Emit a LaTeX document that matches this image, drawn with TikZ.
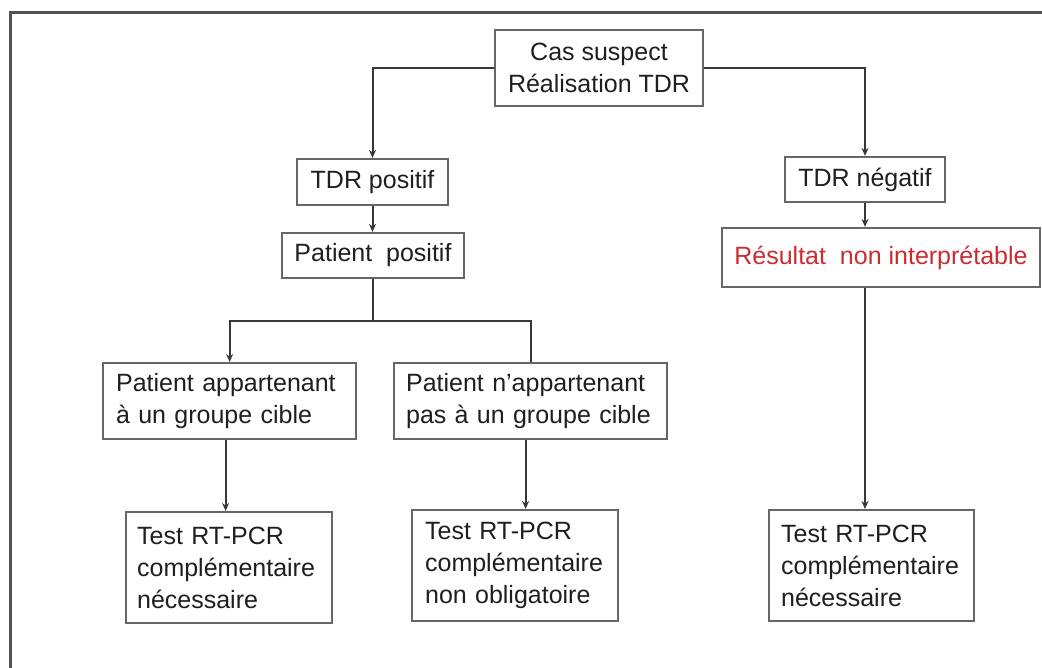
\documentclass[tikz,border=0pt]{standalone}
\usepackage{fontspec}
\setmainfont{Liberation Sans}
\usetikzlibrary{arrows.meta,calc}
\definecolor{redtxt}{RGB}{200,45,50}
\begin{document}
\begin{tikzpicture}[x=1pt,y=-1pt,
  box/.style={draw=black!60, line width=2.2pt, fill=white, inner sep=0pt,
    font=\fontsize{25}{32}\selectfont, text=black!88},
  cbox/.style={box, align=center},
  lbox/.style={box, align=left, anchor=north west},
  conn/.style={draw=black!78, line width=2pt},
  arr/.style={conn, -{Stealth[length=8pt,width=7pt]}},
  frame/.style={draw=black!68, line width=3pt}
]
\useasboundingbox (0,0) rectangle (1042,668);
\fill[white] (0,0) rectangle (1042,668);
% partial frame
\draw[frame] (10,668) -- (10,13) -- (1042,13);

% nodes
\node[cbox, minimum width=208pt, minimum height=76pt] (cas) at (599,68) {Cas suspect\\Réalisation TDR};
\node[cbox, minimum width=151pt, minimum height=46pt] (tdrp) at (372.5,182) {TDR positif};
\node[cbox, minimum width=182pt, minimum height=45pt] (pp) at (373,255.5) {Patient\ \ positif};
\node[cbox, minimum width=160pt, minimum height=45pt] (tdrn) at (865,179.5) {TDR négatif};
\node[cbox, minimum width=318pt, minimum height=59pt, text=redtxt] (res) at (881,257.5) {Résultat\ \ non interprétable};

\node[lbox, text width=227pt, inner xsep=13pt, minimum height=76pt] (pa) at (102,362) {Patient appartenant\\à un groupe cible};
\node[lbox, text width=249pt, inner xsep=12pt, minimum height=76pt] (pn) at (393,362) {Patient n'appartenant\\pas à un groupe cible};

\node[lbox, text width=184pt, inner xsep=11pt, minimum height=111pt] (t1) at (125,511) {Test RT-PCR\\complémentaire\\nécessaire};
\node[lbox, text width=180pt, inner xsep=13pt, minimum height=111pt] (t2) at (411,509) {Test RT-PCR\\complémentaire\\non obligatoire};
\node[lbox, text width=181pt, inner xsep=12pt, minimum height=111pt] (t3) at (768,509) {Test RT-PCR\\complémentaire\\nécessaire};

% connectors
\draw[arr] (cas.west) -| (tdrp.north);
\draw[arr] (cas.east) -| (tdrn.north);
\draw[arr] (tdrp.south) -- (tdrp.south |- pp.north);
\coordinate (bj) at ($(pp.south)+(0,42)$);
\draw[conn] (pp.south) -- (bj);
\draw[arr] (bj) -| (pa.north);
\draw[conn] (bj) -| (pn.north);
\draw[arr] ([xshift=-4pt]pa.south) -- ([xshift=-4pt]pa.south |- t1.north);
\draw[arr] ([xshift=-5pt]pn.south) -- ([xshift=-5pt]pn.south |- t2.north);
\draw[arr] (tdrn.south) -- (tdrn.south |- res.north);
\draw[arr] (tdrn.south |- res.south) -- (tdrn.south |- t3.north);
\end{tikzpicture}
\end{document}
